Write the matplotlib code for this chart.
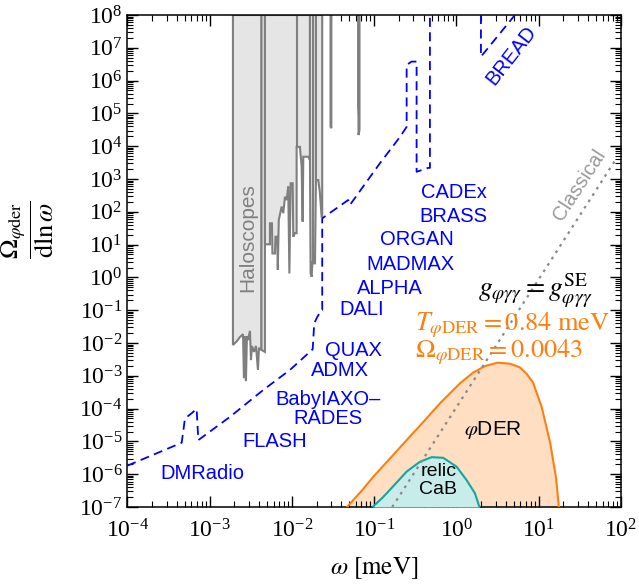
import numpy as np
import matplotlib.pyplot as plt
from matplotlib.ticker import LogLocator, NullFormatter

plt.rcParams['font.family'] = 'serif'
plt.rcParams['font.serif'] = ['Liberation Serif', 'DejaVu Serif']
plt.rcParams['mathtext.fontset'] = 'stix'

# projected sensitivity envelope (log10 of omega [meV] and of the spectrum)
proj_logw = [-4.0, -3.339, -3.299, -3.218, -3.157, -3.137, -2.752, -2.347, -2.023,
             -1.747, -1.728, -1.690, -1.638, -1.631, -1.631, -1.315, -1.294, -0.930,
             -0.687, -0.605, -0.605, -0.544, -0.484, -0.484, -0.343, -0.322, -0.322]
proj_logy = [-5.74, -5.04, -4.30, -4.14, -4.01, -4.96, -4.25, -3.43, -2.82,
             -2.19, -1.40, -1.20, -0.99, -0.99, 1.80, 2.36, 2.21, 3.48,
             4.28, 4.59, 6.48, 6.58, 6.58, 3.22, 3.34, 3.34, 8.0]
bread_logw = [0.298, 0.298, 0.711]
bread_logy = [8.0, 6.73, 8.0]

# haloscope exclusions, each band closed against the top of the frame
halo_a_w = [-2.716, -2.716, -2.667, -2.631, -2.594, -2.582, -2.570, -2.558, -2.546, -2.533,
            -2.509, -2.497, -2.485, -2.461, -2.436, -2.412, -2.400, -2.369, -2.369]
halo_a_y = [8.0, -2.06, -1.94, -1.82, -1.73, -3.07, -1.79, -3.16, -1.79, -1.91,
            -1.63, -2.52, -2.09, -2.27, -2.09, -2.82, -2.15, -2.21, 8.0]
halo_b_w = [-2.369, -2.369, -2.327, -2.327]
halo_b_y = [8.0, -2.21, -2.27, 8.0]
halo_c_w = [-2.327, -2.327, -2.266, -2.266, -2.242, -2.236, -2.205, -2.199, -2.177, -2.171,
            -2.159, -2.124, -2.104, -2.084, -2.063, -2.044, -2.030, -2.015, -1.990, -1.983,
            -1.962, -1.942, -1.942, -1.902, -1.881, -1.869, -1.861, -1.801, -1.780, -1.780]
halo_c_y = [8.0, 1.01, 1.01, 1.65, 1.65, 0.73, 0.73, 1.24, 1.24, 0.23,
            1.75, 2.16, 1.96, 2.46, 2.36, 2.77, 0.12, 2.87, 2.87, 1.24,
            1.35, 1.35, 3.98, 3.98, 3.38, 1.70, 3.68, 3.68, 3.58, 8.0]
halo_d_w = [-1.780, -1.780, -1.772, -1.759, -1.750, -1.740, -1.719, -1.707, -1.707]
halo_d_y = [8.0, 3.58, 0.12, 0.02, 0.50, 0.43, 0.43, 2.97, 8.0]
halo_e_w = [-1.707, -1.707, -1.679, -1.660, -1.650, -1.638, -1.631, -1.631]
halo_e_y = [8.0, 2.97, 2.97, 2.60, 2.26, 1.85, 1.85, 8.0]
halo_f_w = [-1.530, -1.530, -1.520, -1.520]
halo_f_y = [8.0, 4.60, 4.55, 8.0]
halo_g_w = [-1.195, -1.195, -1.190, -1.190, -1.178, -1.178]
halo_g_y = [8.0, 5.20, 4.90, 4.34, 4.50, 8.0]
halo_edges_w = [-1.942, -1.740]
halo_edges_y = [3.98, 0.43]

# phi-DER spectrum and relic CaB spectrum
der_logw = [-1.33, -1.15, -1.011, -0.80, -0.605, -0.40, -0.20, 0.043, 0.204, 0.35,
            0.50, 0.65, 0.77, 0.85, 0.93, 1.035, 1.14, 1.21, 1.245]
der_logy = [-7.0, -6.5, -6.08, -5.50, -4.96, -4.40, -3.84, -3.23, -2.90, -2.70,
            -2.60, -2.63, -2.74, -2.93, -3.20, -3.94, -5.05, -6.10, -7.0]
cab_logw = [-1.02, -0.90, -0.81, -0.605, -0.443, -0.30, -0.16, 0.002, 0.124, 0.225, 0.28]
cab_logy = [-7.0, -6.72, -6.48, -5.92, -5.62, -5.48, -5.50, -5.77, -6.18, -6.58, -7.0]

# g_phigammagamma = g^SE line
classical_logw = [-0.78, 1.93]
classical_logy = [-7.0, 3.57]

experiments = ['DMRadio', 'FLASH', 'BabyIAXO\u2013', 'RADES', 'ADMX', 'QUAX',
               'DALI', 'ALPHA', 'MADMAX', 'ORGAN', 'BRASS', 'CADEx']
exp_pos = [(0.153, 0.0685), (0.299, 0.133), (0.407, 0.219), (0.407, 0.180),
           (0.431, 0.278), (0.459, 0.319), (0.475, 0.402), (0.532, 0.445),
           (0.574, 0.492), (0.586, 0.543), (0.660, 0.590), (0.661, 0.639)]


def p10(v):
    return 10.0 ** np.asarray(v)


fig = plt.figure(figsize=(6.39, 5.84), dpi=100)
ax = fig.add_axes([0.1992, 0.1318, 0.7726, 0.8425])
ax.set_xscale('log')
ax.set_yscale('log')
ax.set_xlim(1e-4, 1e2)
ax.set_ylim(1e-7, 1e8)

halo_fc = '#e5e5e5'
halo_ec = '#7f7f7f'
for bw, by in [(halo_a_w, halo_a_y), (halo_b_w, halo_b_y), (halo_c_w, halo_c_y),
               (halo_d_w, halo_d_y), (halo_e_w, halo_e_y), (halo_f_w, halo_f_y),
               (halo_g_w, halo_g_y)]:
    ax.fill(p10(bw), p10(by), facecolor=halo_fc, edgecolor=halo_ec, lw=1.5, zorder=2)
for ew, ey in zip(halo_edges_w, halo_edges_y):
    ax.plot([10 ** ew] * 2, [10 ** ey, 1e8], color=halo_ec, lw=1.5, zorder=2)

ax.plot(p10(proj_logw), p10(proj_logy), color='#0000ff', ls=(0, (5, 3)), lw=1.3, zorder=3)
ax.plot(p10(bread_logw), p10(bread_logy), color='#0000ff', ls=(0, (5, 3)), lw=1.3, zorder=3)

orange = '#ff7f0e'
ax.fill_between(p10(der_logw), p10(der_logy), 1e-7, color=orange, alpha=0.25, lw=0, zorder=1)
ax.plot(p10(der_logw), p10(der_logy), color=orange, lw=1.5, zorder=4)
ax.fill_between(p10(cab_logw), p10(cab_logy), 1e-7, color='#c8ecea', lw=0, zorder=4)
ax.plot(p10(cab_logw), p10(cab_logy), color='#13a6a0', lw=1.5, zorder=5)

ax.plot(p10(classical_logw), p10(classical_logy), color='#8a8a8a', ls=(0, (1.2, 2.2)),
        lw=1.6, zorder=6)

# labels
for name, (fx, fy) in zip(experiments, exp_pos):
    ax.text(fx, fy, name, transform=ax.transAxes, ha='center', va='center',
            color='#0000ff', fontsize=14.5, family='Liberation Sans', zorder=7)
ax.text(0.778, 0.918, 'BREAD', transform=ax.transAxes, ha='center', va='center',
        rotation=52, color='#0000ff', fontsize=14.5, family='Liberation Sans')
ax.text(0.243, 0.548, 'Haloscopes', transform=ax.transAxes, ha='center', va='center',
        rotation=90, color='#808080', fontsize=15, family='Liberation Sans', zorder=7)
ax.text(0.916, 0.654, 'Classical', transform=ax.transAxes, ha='center', va='center',
        rotation=57, color='#999999', fontsize=14.5, family='Liberation Sans')
ax.text(0.741, 0.157, r'$\varphi$DER', transform=ax.transAxes, ha='center', va='center',
        fontsize=15, family='Liberation Sans', zorder=7)
ax.text(0.630, 0.072, 'relic', transform=ax.transAxes, ha='center', va='center',
        fontsize=14, family='Liberation Sans', zorder=7)
ax.text(0.630, 0.035, 'CaB', transform=ax.transAxes, ha='center', va='center',
        fontsize=14, family='Liberation Sans', zorder=7)
ax.text(0.826, 0.441, r'$g_{\varphi\gamma\gamma} = g_{\varphi\gamma\gamma}^{\rm SE}$',
        transform=ax.transAxes, ha='center', va='center', fontsize=20, zorder=7)
ax.text(0.583, 0.370, r'$T_{\varphi{\rm DER}} = 0.84\ {\rm meV}$', transform=ax.transAxes,
        ha='left', va='center', color=orange, fontsize=19, zorder=7)
ax.text(0.583, 0.315, r'$\Omega_{\varphi{\rm DER}} = 0.0043$', transform=ax.transAxes,
        ha='left', va='center', color=orange, fontsize=19, zorder=7)

ax.set_xlabel(r'$\omega\ [{\rm meV}]$', fontsize=18, labelpad=9)
ax.set_ylabel(r'$\dfrac{\Omega_{\varphi{\rm der}}}{{\rm d}\ln\omega}$', fontsize=19)
ax.yaxis.set_label_coords(-0.145, 0.563)

ax.xaxis.set_major_locator(LogLocator(base=10, numticks=20))
ax.yaxis.set_major_locator(LogLocator(base=10, numticks=30))
for axis in (ax.xaxis, ax.yaxis):
    axis.set_minor_locator(LogLocator(base=10, subs=np.arange(2, 10), numticks=200))
    axis.set_minor_formatter(NullFormatter())
ax.tick_params(which='both', direction='in', top=True, right=True, labelsize=17)
ax.tick_params(axis='x', which='major', pad=9)
ax.tick_params(which='major', length=8, width=1)
ax.tick_params(which='minor', length=4, width=0.8)
for s in ax.spines.values():
    s.set_linewidth(1.1)

fig.savefig('out.png', dpi=100)
